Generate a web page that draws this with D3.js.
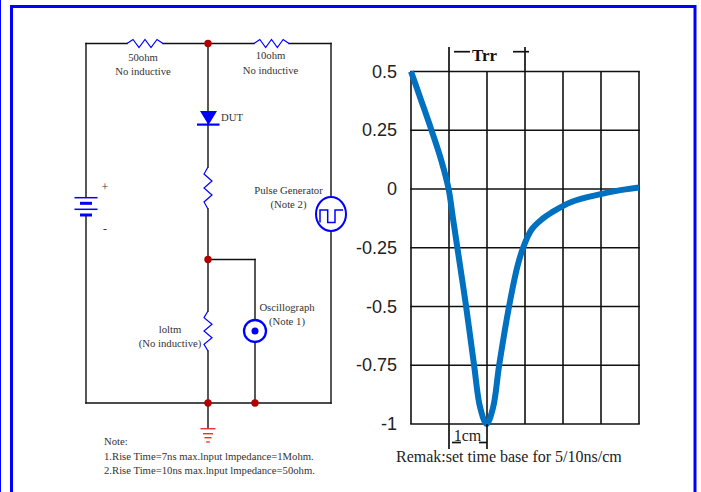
<!DOCTYPE html>
<html>
<head>
<meta charset="utf-8">
<script src="https://cdn.jsdelivr.net/npm/d3@7"></script>
<style>
html, body { margin: 0; padding: 0; background: #fff; }
svg { display: block; }
</style>
</head>
<body>
<div id="chart"></div>
<script>
// waveform, x in cm from the left of the grid, y in the chart's units
var curveX = [0, 0.25, 0.54, 0.8, 0.99, 1.1, 1.22, 1.45, 1.66, 1.82, 1.99, 2.16, 2.32, 2.58, 2.8, 2.95, 3.17, 3.45, 3.7, 4.22, 4.99, 5.41, 6]
var curveY = [0.5, 0.385, 0.25, 0.12, 0, -0.12, -0.25, -0.5, -0.75, -0.93, -1, -0.93, -0.75, -0.5, -0.33, -0.25, -0.173, -0.128, -0.1, -0.055, -0.022, -0.008, 0.006]
var yTicks = [0.5, 0.25, 0, -0.25, -0.5, -0.75, -1]
var yLabels = ["0.5", "0.25", "0", "-0.25", "-0.5", "-0.75", "-1"]
var xTicks = [0, 1, 2, 3, 4, 5, 6]

// schematic rails
var railX = { left: 86, centre: 208, probe: 255, right: 331 }
var railY = { top: 43.5, tap: 259.5, bottom: 403 }
var nodes = [["centre", "top"], ["centre", "tap"], ["centre", "bottom"], ["probe", "bottom"]]

// from, to as [x, y]
var wires = [
    [[railX.left, railY.top], [127, railY.top]],
    [[163, railY.top], [254, railY.top]],
    [[289, railY.top], [railX.right, railY.top]],
    [[railX.right, railY.top], [railX.right, 197]],
    [[railX.right, 231], [railX.right, railY.bottom]],
    [[railX.left, railY.top], [railX.left, 197]],
    [[railX.left, 216], [railX.left, railY.bottom]],
    [[railX.left, railY.bottom], [railX.right, railY.bottom]],
    [[railX.centre, railY.top], [railX.centre, 167]],
    [[railX.centre, 209], [railX.centre, 311]],
    [[railX.centre, 351], [railX.centre, 428]],
    [[railX.centre, railY.tap], [railX.probe, railY.tap]],
    [[railX.probe, railY.tap], [railX.probe, railY.bottom]]
]
var hResistors = [[127, 163], [254, 289]]
var vResistors = [[167, 209], [311, 351]]
var batteryPlates = [[197.7, 11.5, 1.5], [203.3, 6, 3], [209.3, 11.5, 1.5], [215, 6, 3]]
var groundBars = [[428.7, 7.5], [433.7, 5], [437.7, 3.5], [442, 1.8]]

var labels = [
    ["50ohm", 143, 61, "middle", 10.7],
    ["No inductive", 143, 74.5, "middle", 10.7],
    ["10ohm", 270.5, 59, "middle", 10.7],
    ["No inductive", 270.5, 73.5, "middle", 10.7],
    ["DUT", 221, 121, "start", 10.7],
    ["+", 105, 191, "middle", 12],
    ["-", 105, 233, "middle", 12],
    ["Pulse Generator", 288.5, 194, "middle", 10.7],
    ["(Note 2)", 288.5, 208, "middle", 10.7],
    ["Oscillograph", 287, 311, "middle", 10.7],
    ["(Note 1)", 287, 324.5, "middle", 10.7],
    ["loltm", 170, 333, "middle", 10.7],
    ["(No inductive)", 170, 347, "middle", 10.7],
    ["Note:", 104, 445, "start", 10.7],
    ["1.Rise Time=7ns max.lnput lmpedance=1Mohm.", 104, 460, "start", 10.7],
    ["2.Rise Time=10ns max.lnput lmpedance=50ohm.", 104, 474, "start", 10.7]
]

var width = 701, height = 492
var blue = "#0000ff", nodeRed = "#b00000"

var svg = d3.select("#chart").append("svg")
    .attr("width", width)
    .attr("height", height)

// page frame
svg.append("path")
    .attr("d", "M11.5,492V6.5H695V492")
    .attr("fill", "none")
    .attr("stroke", blue)
    .attr("stroke-width", 3)
svg.append("rect").attr("x", 0).attr("y", 0).attr("width", 1).attr("height", height).attr("fill", blue)

// ---- schematic
var schem = svg.append("g")
var line = d3.line()

schem.selectAll(".wire")
    .data(wires)
    .enter()
    .append("path")
    .attr("class", "wire")
    .attr("d", d => line(d))
    .attr("fill", "none")
    .attr("stroke", "#111")
    .attr("stroke-width", 1.4)
    .attr("stroke-linecap", "square")

// zigzag resistor, three teeth
function zig(a, b, amp) {
    var step = (b - a) / 6
    return d3.range(7).map(i => [a + i * step, i == 0 || i == 6 ? 0 : (i % 2 ? -amp : amp)])
}
schem.selectAll(".hres")
    .data(hResistors)
    .enter()
    .append("path")
    .attr("d", d => line(zig(d[0], d[1], 4).map(p => [p[0], railY.top + p[1]])))
    .attr("fill", "none")
    .attr("stroke", blue)
    .attr("stroke-width", 1.2)
schem.selectAll(".vres")
    .data(vResistors)
    .enter()
    .append("path")
    .attr("d", d => line(zig(d[0], d[1], 4).map(p => [railX.centre + p[1], p[0]])))
    .attr("fill", "none")
    .attr("stroke", blue)
    .attr("stroke-width", 1.2)

// diode
schem.append("path")
    .attr("d", line([[200, 111], [217, 111], [208.5, 125]]) + "Z")
    .attr("fill", blue)
schem.append("rect")
    .attr("x", 197).attr("y", 123.5).attr("width", 22.5).attr("height", 2.2)
    .attr("fill", blue)

// battery
schem.selectAll(".plate")
    .data(batteryPlates)
    .enter()
    .append("rect")
    .attr("x", d => railX.left - d[1])
    .attr("y", d => d[0] - d[2] / 2)
    .attr("width", d => d[1] * 2)
    .attr("height", d => d[2])
    .attr("fill", blue)

// pulse generator
schem.append("ellipse")
    .attr("cx", railX.right).attr("cy", 214).attr("rx", 15).attr("ry", 17)
    .attr("fill", "#fff").attr("stroke", blue).attr("stroke-width", 2)
schem.append("path")
    .attr("d", line([[320, 222.5], [320, 210], [327.7, 210], [327.7, 222.5], [335, 222.5], [335, 210], [343, 210]]))
    .attr("fill", "none").attr("stroke", blue).attr("stroke-width", 1.5)

// oscillograph
schem.append("circle")
    .attr("cx", railX.probe).attr("cy", 331).attr("r", 11)
    .attr("fill", "#fff").attr("stroke", blue).attr("stroke-width", 2.3)
schem.append("circle")
    .attr("cx", railX.probe).attr("cy", 331).attr("r", 3.5)
    .attr("fill", blue)

// ground
schem.selectAll(".gnd")
    .data(groundBars)
    .enter()
    .append("rect")
    .attr("x", d => railX.centre - d[1])
    .attr("y", d => d[0] - 0.7)
    .attr("width", d => d[1] * 2)
    .attr("height", 1.4)
    .attr("fill", "#f03030")

// junction dots
schem.selectAll(".node")
    .data(nodes)
    .enter()
    .append("circle")
    .attr("cx", d => railX[d[0]])
    .attr("cy", d => railY[d[1]])
    .attr("r", 3.7)
    .attr("fill", nodeRed)

schem.selectAll(".label")
    .data(labels)
    .enter()
    .append("text")
    .attr("x", d => d[1])
    .attr("y", d => d[2])
    .attr("text-anchor", d => d[3])
    .attr("font-family", "Liberation Serif")
    .attr("font-size", d => d[4] + "px")
    .attr("fill", "#333")
    .text(d => d[0])

// ---- chart
var xScale = d3.scaleLinear().domain([0, 6]).range([411, 639])
var yScale = d3.scaleLinear().domain([-1, 0.5]).range([424, 71.5])

var grid = svg.append("g")
grid.selectAll(".h")
    .data(yTicks)
    .enter()
    .append("line")
    .attr("x1", xScale(0)).attr("x2", xScale(6))
    .attr("y1", d => yScale(d)).attr("y2", d => yScale(d))
    .attr("stroke", "#111").attr("stroke-width", 1.6)
    .attr("stroke-linecap", "square")
grid.selectAll(".v")
    .data(xTicks)
    .enter()
    .append("line")
    .attr("x1", d => xScale(d)).attr("x2", d => xScale(d))
    .attr("y1", yScale(0.5)).attr("y2", yScale(-1))
    .attr("stroke", "#111").attr("stroke-width", 1.6)

svg.append("g").selectAll("text")
    .data(yTicks)
    .enter()
    .append("text")
    .attr("x", 397)
    .attr("y", d => yScale(d) + 6)
    .attr("text-anchor", "end")
    .attr("font-family", "Liberation Sans")
    .attr("font-size", "18px")
    .attr("fill", "#222")
    .text((d, i) => yLabels[i])

svg.append("path")
    .attr("d", d3.line()
        .x((d, i) => xScale(curveX[i]))
        .y(d => yScale(d))
        .curve(d3.curveCatmullRom.alpha(0.5))(curveY))
    .attr("fill", "none")
    .attr("stroke", "#0070c0")
    .attr("stroke-width", 6)

// Trr and 1cm brackets
var brackets = [
    [[xScale(1), 47], [xScale(1), yScale(0.5)]],
    [[xScale(3), 47], [xScale(3), yScale(0.5)]],
    [[454, 51.7], [470, 51.7]],
    [[513, 51.7], [529, 51.7]],
    [[xScale(1), yScale(-1)], [xScale(1), 449]],
    [[xScale(2), yScale(-1)], [xScale(2), 449]],
    [[452, 442.5], [461, 442.5]],
    [[479, 442.5], [487, 442.5]]
]
svg.append("g").selectAll("path")
    .data(brackets)
    .enter()
    .append("path")
    .attr("d", d => line(d))
    .attr("stroke", "#111")
    .attr("stroke-width", 1.7)

svg.append("text")
    .attr("x", 484.5).attr("y", 61)
    .attr("text-anchor", "middle")
    .attr("font-family", "Liberation Serif")
    .attr("font-weight", "bold")
    .attr("font-size", "17px")
    .attr("fill", "#111")
    .text("Trr")
svg.append("text")
    .attr("x", 467.5).attr("y", 441)
    .attr("text-anchor", "middle")
    .attr("font-family", "Liberation Serif")
    .attr("font-size", "16px")
    .attr("fill", "#222")
    .text("1cm")
svg.append("text")
    .attr("x", 396).attr("y", 462)
    .attr("font-family", "Liberation Serif")
    .attr("font-size", "16px")
    .attr("fill", "#222")
    .text("Remak:set time base for 5/10ns/cm")
</script>
</body>
</html>
